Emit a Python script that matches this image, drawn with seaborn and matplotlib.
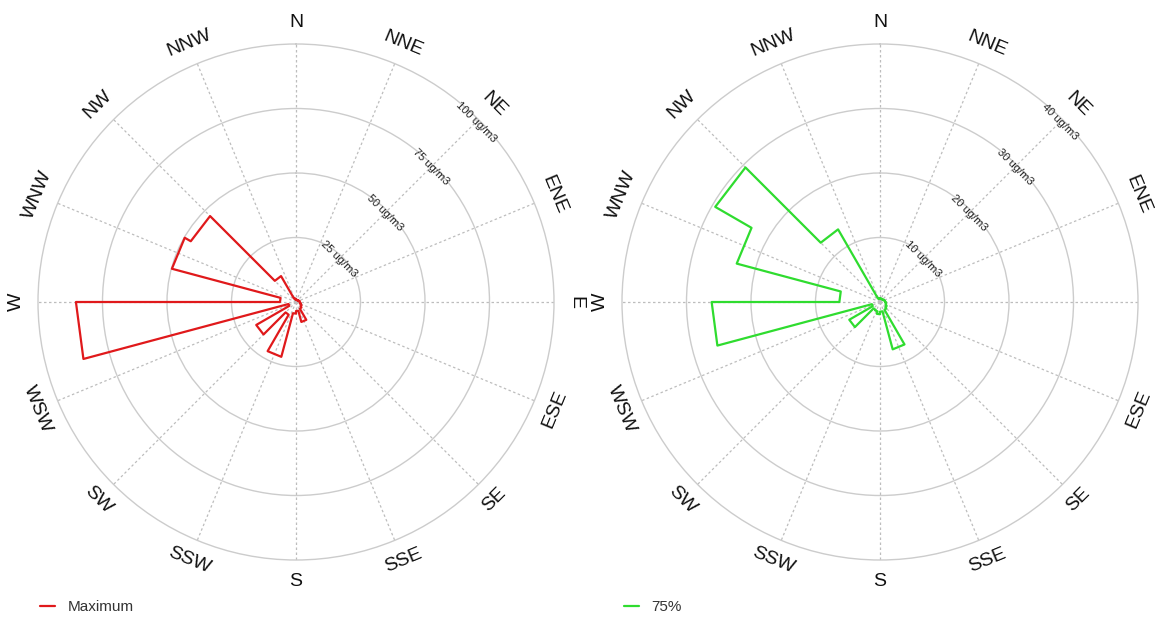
import numpy as np
import pandas as pd
import matplotlib
matplotlib.use("Agg")
import matplotlib.pyplot as plt
import seaborn as sns

sns.set_style("white")
plt.rcParams["font.family"] = ["Liberation Sans", "DejaVu Sans"]

# Wind-direction sectors: 24 sectors of 15 degrees, starting at north (clockwise)
sector_start = list(range(0, 360, 15))
sector_width = 15

# Concentration per sector (ug/m3)
max_conc = [1.0, 0.8, 0.8, 1.0, 1.2, 1.5, 1.5, 2.0, 2.5, 3.0, 8.0, 3.5,
            4.5, 22.0, 5.7, 17.8, 3.0, 85.3, 6.2, 49.8, 47.1, 11.6, 1.5, 1.0]
p75_conc = [0.6, 0.5, 0.5, 0.6, 0.7, 0.8, 0.9, 1.0, 1.2, 1.4, 7.6, 1.5,
            1.9, 1.5, 1.4, 5.5, 1.3, 26.1, 6.3, 23.0, 29.5, 13.0, 0.6, 0.5]

direction_labels = ["N", "NNE", "NE", "ENE", "E", "ESE", "SE", "SSE",
                    "S", "SSW", "SW", "WSW", "W", "WNW", "NW", "NNW"]
direction_angles = [i * 22.5 for i in range(16)]

max_rings = [25, 50, 75, 100]
p75_rings = [10, 20, 30, 40]
unit = "ug/m3"

panels = [
    ("Maximum", max_conc, max_rings, "#e0191b"),
    ("75%", p75_conc, p75_rings, "#2fdc2f"),
]


def sector_outline(values):
    theta, conc = [], []
    for start, v in zip(sector_start, values):
        theta += [np.deg2rad(start), np.deg2rad(start + sector_width)]
        conc += [v, v]
    theta.append(theta[0])
    conc.append(conc[0])
    return pd.DataFrame({"theta": theta, "conc": conc})


W, H = 1158, 617
fig = plt.figure(figsize=(W / 100, H / 100), dpi=100)

centers_x = [296, 880]
radius_px = 258
cy = 302

for (name, values, rings, color), cx in zip(panels, centers_x):
    ax = fig.add_axes([(cx - radius_px) / W, (H - cy - radius_px) / H,
                       2 * radius_px / W, 2 * radius_px / H], projection="polar")
    ax.set_theta_zero_location("N")
    ax.set_theta_direction(-1)

    df = sector_outline(values)
    sns.lineplot(data=df, x="theta", y="conc", sort=False, estimator=None,
                 ax=ax, color=color, lw=1.6, label=name, legend=False)

    rmax = rings[-1]
    ax.set_ylim(0, rmax)
    ax.set_rgrids(rings, labels=[""] * len(rings))
    ax.set_thetagrids(direction_angles, labels=[""] * len(direction_angles))
    ax.yaxis.grid(True, color="#cccccc", lw=1.0, ls="-")
    ax.xaxis.grid(True, color="#bdbdbd", lw=0.9, ls=(0, (2.0, 2.0)))
    for gl in ax.yaxis.get_gridlines():
        gl.set_clip_on(False)
    ax.spines["polar"].set_visible(False)
    ax.set_xlabel("")
    ax.set_ylabel("")
    ax.set_facecolor("white")

    # compass labels around the rim
    for lab, a in zip(direction_labels, direction_angles):
        rot = 180 - a if 90 < a < 270 else -a
        ax.text(np.deg2rad(a), rmax * 1.085, lab, fontsize=14, color="#111111",
                rotation=rot, rotation_mode="anchor", ha="center", va="center",
                clip_on=False)

    # ring value labels along the north-east spoke
    for rv in rings:
        ax.text(np.deg2rad(45), rv - rmax * 0.012, f"{rv} {unit}",
                fontsize=8, color="#222222", rotation=-45,
                rotation_mode="anchor", ha="center", va="center")

    handles, labels = ax.get_legend_handles_labels()
    fig.legend(handles, labels, loc="center left",
               bbox_to_anchor=((cx - 256) / W, 1 - 607 / H),
               frameon=False, fontsize=11, handlelength=1.0,
               handletextpad=0.8, borderpad=0, borderaxespad=0,
               labelcolor="#333333")

fig.savefig("out.png", dpi=100, facecolor="white")
